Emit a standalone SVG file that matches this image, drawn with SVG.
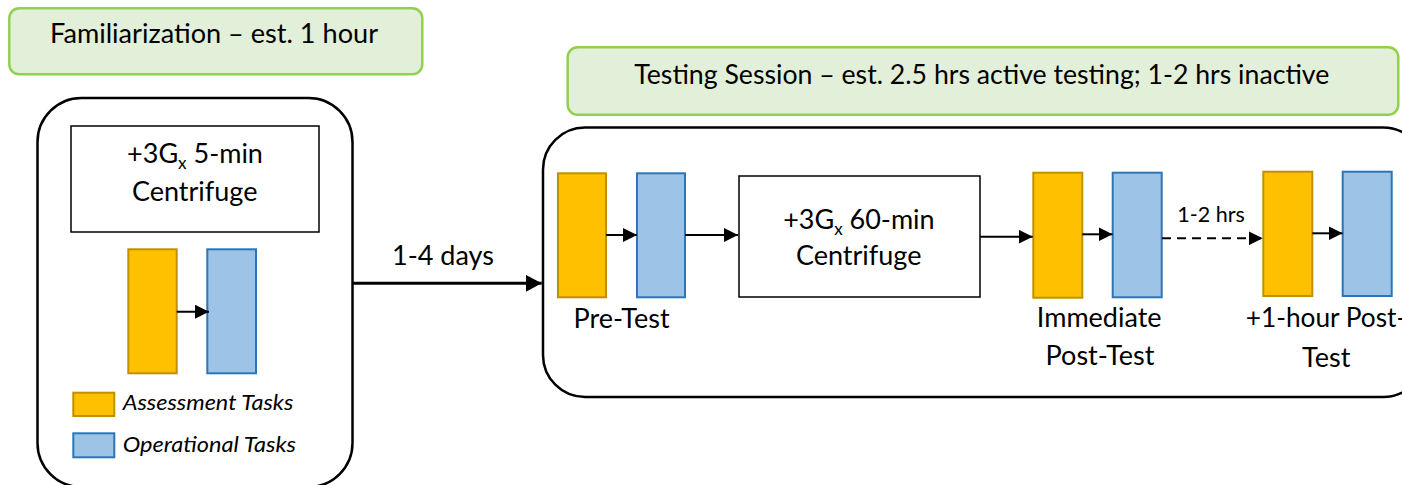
<svg xmlns="http://www.w3.org/2000/svg" width="1402" height="485" viewBox="0 0 1402 485">
  <defs>
    <style>
      .t{font-family:Lato,"Open Sans","Liberation Sans",sans-serif;fill:#000;font-size:27px}
      .sm{font-size:21.5px}
      .lg{font-size:21.5px;font-style:italic}
      .sub{font-size:17px}
      .title{fill:#e2efd9;stroke:#92d050;stroke-width:2.5}
      .frame{fill:#fff;stroke:#000;stroke-width:2.5}
      .cent{fill:#fff;stroke:#000;stroke-width:1.5}
      .asm{fill:#ffc000;stroke:#bf9000;stroke-width:2}
      .ops{fill:#9dc3e6;stroke:#2e75b6;stroke-width:2}
      .arr{stroke:#000;stroke-width:2;fill:none;marker-end:url(#head)}
      .big{stroke:#000;stroke-width:3;fill:none;marker-end:url(#headBig)}
      .dash{stroke-dasharray:9 6}
    </style>
    <marker id="head" markerUnits="userSpaceOnUse" markerWidth="14" markerHeight="14" refX="14" refY="7" orient="auto">
      <path d="M0,0 L14,7 L0,14 z" fill="#000"/>
    </marker>
    <marker id="headBig" markerUnits="userSpaceOnUse" markerWidth="16" markerHeight="17" refX="16" refY="8.5" orient="auto">
      <path d="M0,0 L16,8.5 L0,17 z" fill="#000"/>
    </marker>
  </defs>

  <!-- Familiarization phase -->
  <g id="fam-title">
    <rect class="title" x="9.3" y="8.3" width="413" height="66" rx="10"/>
    <text class="t" x="214" y="43.3" text-anchor="middle" textLength="328" lengthAdjust="spacingAndGlyphs">Familiarization – est. 1 hour</text>
  </g>
  <g id="fam-frame">
    <rect class="frame" x="37.5" y="98" width="315" height="389" rx="44"/>
  </g>
  <g id="fam-centrifuge">
    <rect class="cent" x="71" y="126" width="248" height="106"/>
    <text class="t" x="195" y="163.3" text-anchor="middle">+3G<tspan class="sub" dy="6">x</tspan><tspan dy="-6"> 5-min</tspan></text>
    <text class="t" x="194.7" y="201" text-anchor="middle">Centrifuge</text>
  </g>
  <g id="fam-assess">
    <rect class="asm" x="128.3" y="249.3" width="48.4" height="124"/>
  </g>
  <g id="fam-ops">
    <rect class="ops" x="207.3" y="249.3" width="48.7" height="124"/>
  </g>
  <g id="legend">
    <rect class="asm" x="73.3" y="392.7" width="41" height="23.3"/>
    <text class="t lg" x="122.7" y="410" textLength="170.6" lengthAdjust="spacingAndGlyphs">Assessment Tasks</text>
    <rect class="ops" x="73.3" y="433.3" width="41" height="24"/>
    <text class="t lg" x="122.7" y="451.5" textLength="173.3" lengthAdjust="spacingAndGlyphs">Operational Tasks</text>
  </g>

  <!-- Testing session -->
  <g id="test-title">
    <rect class="title" x="567.7" y="47.3" width="830.6" height="67.4" rx="10"/>
    <text class="t" x="981.8" y="83.7" text-anchor="middle" textLength="695" lengthAdjust="spacingAndGlyphs">Testing Session – est. 2.5 hrs active testing; 1-2 hrs inactive</text>
  </g>
  <g id="test-frame">
    <rect class="frame" x="543" y="127.5" width="882" height="269.5" rx="42"/>
  </g>
  <g id="pre-assess">
    <rect class="asm" x="558" y="173.3" width="48" height="124"/>
  </g>
  <g id="pre-ops">
    <rect class="ops" x="637" y="173.3" width="48" height="124"/>
  </g>
  <g id="pre-label">
    <text class="t" x="621.5" y="328" text-anchor="middle">Pre-Test</text>
  </g>
  <g id="test-centrifuge">
    <rect class="cent" x="739" y="176" width="241" height="121"/>
    <text class="t" x="858.9" y="229" text-anchor="middle">+3G<tspan class="sub" dy="6">x</tspan><tspan dy="-6"> 60-min</tspan></text>
    <text class="t" x="858.7" y="265" text-anchor="middle">Centrifuge</text>
  </g>
  <g id="imm-assess">
    <rect class="asm" x="1033.3" y="172.7" width="49" height="125"/>
  </g>
  <g id="imm-ops">
    <rect class="ops" x="1112.7" y="172.7" width="49" height="124.6"/>
  </g>
  <g id="imm-label">
    <text class="t" x="1099.2" y="326.7" text-anchor="middle">Immediate</text>
    <text class="t" x="1100" y="365" text-anchor="middle">Post-Test</text>
  </g>
  <g id="late-assess">
    <rect class="asm" x="1263.3" y="171.7" width="49" height="124.3"/>
  </g>
  <g id="late-ops">
    <rect class="ops" x="1342.7" y="171.7" width="49" height="124.3"/>
  </g>
  <g id="late-label">
    <text class="t" x="1245.7" y="326.7" textLength="160.6" lengthAdjust="spacingAndGlyphs">+1-hour Post-</text>
    <text class="t" x="1326.2" y="366.7" text-anchor="middle">Test</text>
  </g>

  <!-- Connectors -->
  <g id="connectors">
    <line class="arr" x1="176.7" y1="311.7" x2="209" y2="311.7"/>
    <line class="big" x1="353" y1="283.3" x2="541.7" y2="283.3"/>
    <text class="t" x="443" y="265" text-anchor="middle">1-4 days</text>
    <line class="arr" x1="606" y1="235" x2="637" y2="235"/>
    <line class="arr" x1="685" y1="235" x2="738" y2="235"/>
    <line class="arr" x1="980" y1="236.7" x2="1032.7" y2="236.7"/>
    <line class="arr" x1="1082.3" y1="234.3" x2="1112.5" y2="234.3"/>
    <line class="arr dash" x1="1162" y1="238.3" x2="1262.7" y2="238.3"/>
    <text class="t sm" x="1211" y="221.7" text-anchor="middle">1-2 hrs</text>
    <line class="arr" x1="1312.3" y1="233.3" x2="1342.5" y2="233.3"/>
  </g>
</svg>
